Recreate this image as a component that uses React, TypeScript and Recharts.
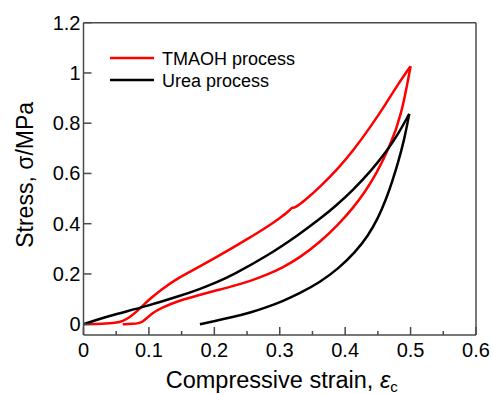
import { LineChart, Line, XAxis, YAxis, Legend, Label } from 'recharts';

// strain (x) vs stress in MPa (y)
const tmaohLoading = [
  { x: 0, y: 0 }, { x: 0.03, y: 0.001 }, { x: 0.05, y: 0.005 }, { x: 0.06, y: 0.012 },
  { x: 0.07, y: 0.027 }, { x: 0.08, y: 0.047 }, { x: 0.09, y: 0.072 }, { x: 0.1, y: 0.097 },
  { x: 0.117, y: 0.135 }, { x: 0.147, y: 0.188 }, { x: 0.178, y: 0.23 }, { x: 0.204, y: 0.268 },
  { x: 0.228, y: 0.304 }, { x: 0.25, y: 0.338 }, { x: 0.28, y: 0.386 }, { x: 0.3, y: 0.422 },
  { x: 0.315, y: 0.452 }, { x: 0.319, y: 0.466 }, { x: 0.322, y: 0.46 }, { x: 0.34, y: 0.496 },
  { x: 0.361, y: 0.545 }, { x: 0.39, y: 0.622 }, { x: 0.412, y: 0.69 }, { x: 0.44, y: 0.79 },
  { x: 0.463, y: 0.88 }, { x: 0.48, y: 0.952 }, { x: 0.5, y: 1.027 },
];
const tmaohUnloading = [
  { x: 0.06, y: 0 }, { x: 0.075, y: 0.001 }, { x: 0.085, y: 0.004 }, { x: 0.09, y: 0.009 },
  { x: 0.097, y: 0.025 }, { x: 0.105, y: 0.043 }, { x: 0.117, y: 0.063 }, { x: 0.147, y: 0.095 },
  { x: 0.178, y: 0.117 }, { x: 0.204, y: 0.135 }, { x: 0.229, y: 0.152 }, { x: 0.255, y: 0.172 },
  { x: 0.28, y: 0.196 }, { x: 0.305, y: 0.226 }, { x: 0.33, y: 0.264 }, { x: 0.361, y: 0.325 },
  { x: 0.39, y: 0.398 }, { x: 0.412, y: 0.462 }, { x: 0.43, y: 0.525 }, { x: 0.448, y: 0.6 },
  { x: 0.468, y: 0.706 }, { x: 0.486, y: 0.83 }, { x: 0.5, y: 1.027 },
];
const ureaLoading = [
  { x: 0, y: 0 }, { x: 0.02, y: 0.017 }, { x: 0.045, y: 0.037 }, { x: 0.097, y: 0.072 },
  { x: 0.147, y: 0.112 }, { x: 0.178, y: 0.14 }, { x: 0.204, y: 0.167 }, { x: 0.228, y: 0.196 },
  { x: 0.28, y: 0.27 }, { x: 0.33, y: 0.358 }, { x: 0.361, y: 0.418 }, { x: 0.387, y: 0.474 },
  { x: 0.412, y: 0.534 }, { x: 0.44, y: 0.612 }, { x: 0.463, y: 0.687 }, { x: 0.48, y: 0.752 },
  { x: 0.498, y: 0.837 },
];
const ureaUnloading = [
  { x: 0.178, y: 0 }, { x: 0.2, y: 0.012 }, { x: 0.228, y: 0.028 }, { x: 0.255, y: 0.046 },
  { x: 0.28, y: 0.067 }, { x: 0.305, y: 0.092 }, { x: 0.33, y: 0.122 }, { x: 0.361, y: 0.166 },
  { x: 0.39, y: 0.222 }, { x: 0.415, y: 0.285 }, { x: 0.435, y: 0.352 }, { x: 0.45, y: 0.42 },
  { x: 0.463, y: 0.5 }, { x: 0.472, y: 0.568 }, { x: 0.481, y: 0.645 }, { x: 0.49, y: 0.73 },
  { x: 0.498, y: 0.837 },
];

const seriesNames = ['TMAOH process', 'Urea process'];
const seriesColors = ['#ff0000', '#000000'];

const xTicks = [0, 0.05, 0.1, 0.15, 0.2, 0.25, 0.3, 0.35, 0.4, 0.45, 0.5, 0.55, 0.6];
const yTicks = [0, 0.2, 0.4, 0.6, 0.8, 1, 1.2];

const FONT = '"Liberation Sans", Arial, sans-serif';
const AXIS = '#4a4a4a';

const fmt = (v: number) => String(Math.round(v * 10) / 10);
const isMajor = (v: number) => Math.round(v * 100) % 10 === 0;

const BottomTick = (props: any) => {
  const { x, y, payload } = props;
  const major = isMajor(payload.value);
  return (
    <g>
      <line x1={x} x2={x} y1={y} y2={y - (major ? 8 : 4)} stroke={AXIS} strokeWidth={1.5} />
      {major && (
        <text x={x} y={y + 22} textAnchor="middle" fontSize={20} fontFamily={FONT} fill="#000">
          {fmt(payload.value)}
        </text>
      )}
    </g>
  );
};

const TopTick = (props: any) => {
  const { x, y, payload } = props;
  const major = isMajor(payload.value);
  return <line x1={x} x2={x} y1={y} y2={y + (major ? 8 : 4)} stroke={AXIS} strokeWidth={1.5} />;
};

const LeftTick = (props: any) => {
  const { x, y, payload } = props;
  return (
    <g>
      <line x1={x} x2={x + 8} y1={y} y2={y} stroke={AXIS} strokeWidth={1.5} />
      <text x={x - 3} y={y + 7} textAnchor="end" fontSize={20} fontFamily={FONT} fill="#000">
        {fmt(payload.value)}
      </text>
    </g>
  );
};

const RightTick = (props: any) => {
  const { x, y } = props;
  return <line x1={x} x2={x - 8} y1={y} y2={y} stroke={AXIS} strokeWidth={1.5} />;
};

const XTitle = (props: any) => {
  const { viewBox } = props;
  const cx = viewBox.x + viewBox.width / 2 + 2;
  return (
    <text x={cx} y={viewBox.y + 53} textAnchor="middle" fontSize={23.5} fontFamily={FONT} fill="#000">
      Compressive strain,{' '}
      <tspan fontStyle="italic">ε</tspan>
      <tspan fontSize={15} dy={4}>c</tspan>
    </text>
  );
};

const YTitle = (props: any) => {
  const { viewBox } = props;
  const cy = viewBox.y + viewBox.height / 2 - 4;
  const bx = 33;
  return (
    <text
      x={bx}
      y={cy}
      transform={`rotate(-90, ${bx}, ${cy})`}
      textAnchor="middle"
      fontSize={23}
      fontFamily={FONT}
      fill="#000"
    >
      Stress, σ/MPa
    </text>
  );
};

const LegendBox = () => (
  <svg width={220} height={48} style={{ display: 'block' }}>
    {seriesNames.map((name, i) => (
      <g key={name}>
        <line x1={0} x2={44} y1={8 + i * 22} y2={8 + i * 22} stroke={seriesColors[i]} strokeWidth={2.5} />
        <text x={52} y={15 + i * 22} fontSize={18} fontFamily={FONT} fill="#000">
          {name}
        </text>
      </g>
    ))}
  </svg>
);

export default function App() {
  return (
    <div style={{ position: 'absolute', left: 0, top: 0 }}>
      <LineChart
        width={493}
        height={394}
        margin={{ top: 21.7, right: 16, bottom: 58, left: 82.5 }}
        style={{ fontFamily: FONT }}
      >
        <XAxis
          type="number"
          dataKey="x"
          domain={[0, 0.6]}
          ticks={xTicks}
          interval={0}
          height={1}
          tickSize={0}
          tickMargin={0}
          tick={<BottomTick />}
          axisLine={{ stroke: AXIS, strokeWidth: 1.5 }}
        >
          <Label content={<XTitle />} />
        </XAxis>
        <XAxis
          xAxisId="top"
          orientation="top"
          type="number"
          dataKey="x"
          domain={[0, 0.6]}
          ticks={xTicks}
          interval={0}
          height={1}
          tickSize={0}
          tickMargin={0}
          tick={<TopTick />}
          axisLine={{ stroke: AXIS, strokeWidth: 1.5 }}
        />
        <YAxis
          type="number"
          domain={[-0.043, 1.2]}
          ticks={yTicks}
          interval={0}
          width={1}
          tickSize={0}
          tickMargin={0}
          tick={<LeftTick />}
          axisLine={{ stroke: AXIS, strokeWidth: 1.5 }}
        >
          <Label content={<YTitle />} />
        </YAxis>
        <YAxis
          yAxisId="right"
          orientation="right"
          type="number"
          domain={[-0.043, 1.2]}
          ticks={yTicks}
          interval={0}
          width={1}
          tickSize={0}
          tickMargin={0}
          tick={<RightTick />}
          axisLine={{ stroke: AXIS, strokeWidth: 1.5 }}
        />
        <Legend
          content={<LegendBox />}
          layout="vertical"
          align="center"
          verticalAlign="middle"
          wrapperStyle={{ position: 'absolute', left: 110, top: 50, width: 220 }}
        />
        <Line data={tmaohLoading} dataKey="y" type="basis" stroke={seriesColors[0]} strokeWidth={2.5} dot={false} isAnimationActive={false} />
        <Line data={tmaohUnloading} dataKey="y" type="basis" stroke={seriesColors[0]} strokeWidth={2.5} dot={false} isAnimationActive={false} />
        <Line data={ureaLoading} dataKey="y" type="basis" stroke={seriesColors[1]} strokeWidth={2.5} dot={false} isAnimationActive={false} />
        <Line data={ureaUnloading} dataKey="y" type="basis" stroke={seriesColors[1]} strokeWidth={2.5} dot={false} isAnimationActive={false} />
      </LineChart>
    </div>
  );
}
